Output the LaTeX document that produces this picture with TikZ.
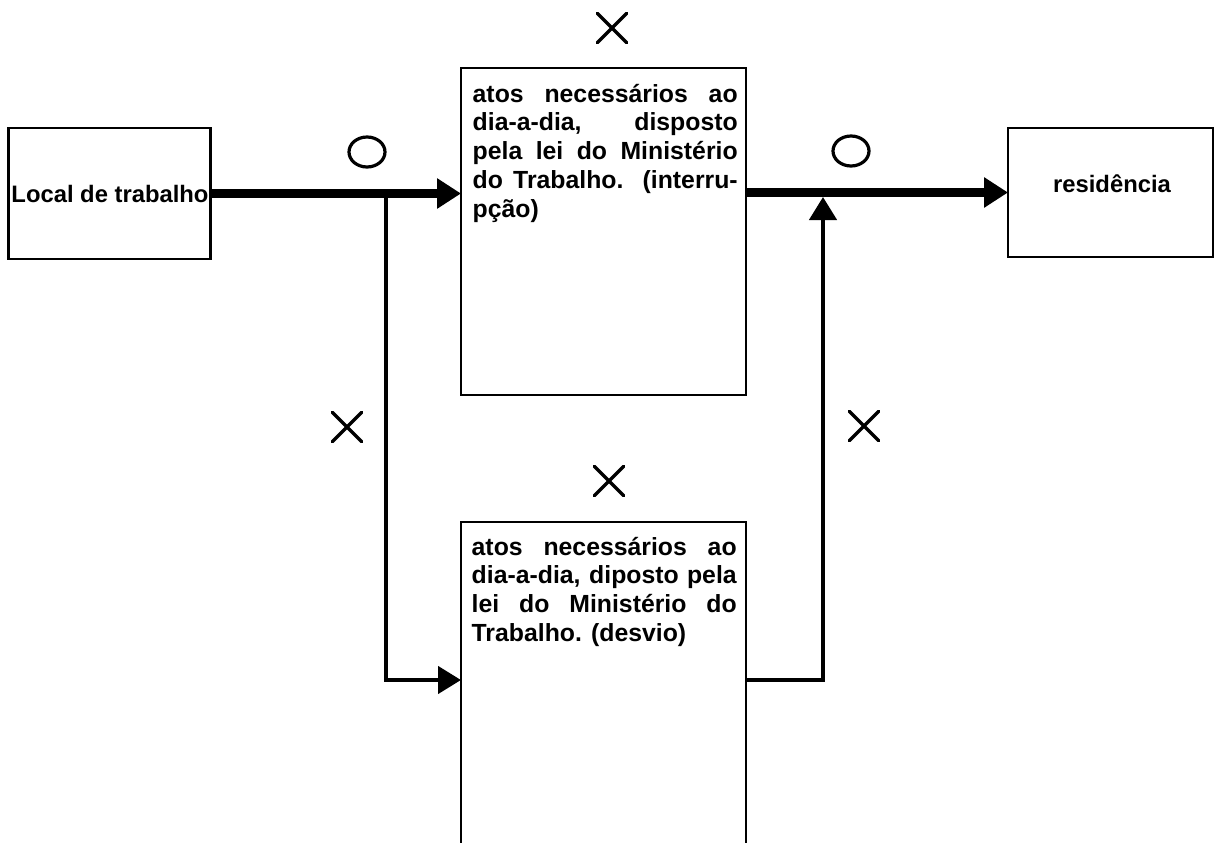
\documentclass[tikz,border=0pt]{standalone}
\usepackage{fontspec}
\setmainfont{Liberation Sans}
\usetikzlibrary{arrows.meta,shapes.geometric,shapes.misc}

\begin{document}
\begin{tikzpicture}[x=1pt,y=-1pt,
  box/.style={draw, line width=2.2pt, rectangle, inner sep=0pt, outer sep=0pt},
  lbl/.style={font={\bfseries\fontsize{23.8}{28.8}\selectfont}, inner sep=0pt},
  para/.style={font={\bfseries\fontsize{24.8}{28.8}\selectfont\tolerance=10000 \hyphenpenalty=10000 }, inner sep=0pt, text width=265pt, align=justify},
  thickarrow/.style={line width=8.5pt, -{Triangle[length=24pt,width=29pt]}},
  thinarrow/.style={line width=4.5pt, -{Triangle[length=23pt,width=27pt]}},
  xmark/.style={cross out, draw, line width=3.4pt, line cap=round, minimum size=26pt, inner sep=0pt},
  omark/.style={ellipse, draw, line width=3.2pt, minimum width=36pt, minimum height=30pt, inner sep=0pt}]

\path[use as bounding box, clip] (0,0) rectangle (1215,843);
\fill[white] (0,0) rectangle (1215,843);

% boxes
\node[box, minimum width=202pt, minimum height=131pt] (ltb) at (109.5,193.5) {};
\node[lbl, anchor=base] (ltbtext) at (110,202) {Local de trabalho};
\node[box, minimum width=205pt, minimum height=129pt] (res) at (1110.5,192.5) {};
\node[lbl, anchor=base] (restext) at (1112,192) {residência};
\node[box, minimum width=285pt, minimum height=327pt] (top) at (603.5,231.5) {};
\node[box, minimum width=285pt, minimum height=400pt] (bot) at (603.5,722) {};

\node[para, anchor=base west] (toptext) at (472.5,102)
  {atos necessários ao\linebreak dia-a-dia, disposto\linebreak pela lei do Ministério\linebreak do Trabalho. (interru-\linebreak pção)};
\node[para, anchor=base west] (bottext) at (471.5,555)
  {atos necessários ao\linebreak dia-a-dia, diposto pela\linebreak lei do Ministério do\linebreak Trabalho. (desvio)};

% marks
\node[xmark] (x1) at (612,28) {};
\node[xmark] (x2) at (347,427) {};
\node[xmark] (x3) at (609,481) {};
\node[xmark] (x4) at (864,426) {};
\node[omark] (o1) at (367,152) {};
\node[omark] (o2) at (851,151) {};

% connectors
\coordinate (j1) at (386,193);
\coordinate (j2) at (823,197);
\draw[thickarrow] (ltb.east) -- (ltb.east -| top.west);
\draw[thickarrow] (res.west -| top.east) -- (res.west);
\draw[thinarrow] (j1) |- (bot.west |- 0,680);
\draw[thinarrow] (bot.east |- 0,680) -| (j2);
\end{tikzpicture}
\end{document}
